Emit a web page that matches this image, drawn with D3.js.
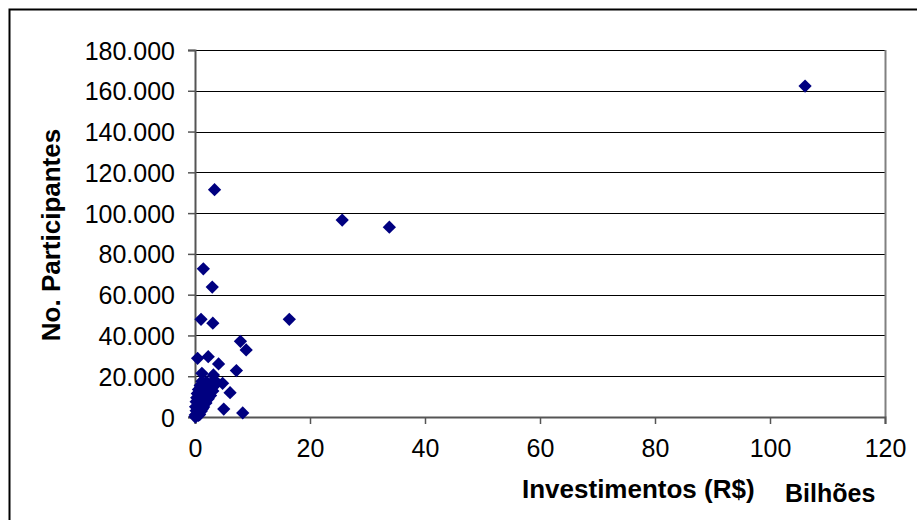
<!DOCTYPE html>
<html>
<head>
<meta charset="utf-8">
<script src="https://cdn.jsdelivr.net/npm/d3@7/dist/d3.min.js"></script>
<style>
  body { margin: 0; background: #fff; }
  svg { display: block; }
  text { font-family: Arial, "Liberation Sans", sans-serif; fill: #000; }
</style>
</head>
<body>
<div id="viz"></div>
<script>
// Investimentos (R$ bilhões) x No. Participantes
var investimentos = [
  106.1, 25.6, 33.8, 3.4, 1.45, 3.0, 16.4, 1.05, 3.1,
  7.9, 8.9, 0.45, 2.3, 4.1, 7.2, 1.2, 3.2, 4.8, 6.1, 5.0, 8.3,
  2.0, 2.8, 3.6, 1.7, 2.5, 3.4, 1.3, 2.0, 2.7, 3.1,
  1.0, 1.6, 2.2, 2.7, 0.8, 1.3, 1.8, 2.3, 0.6, 1.0, 1.5, 1.9,
  0.3, 0.8, 1.2, 1.5, 0.2, 0.5, 0.9, 1.1, 0.05, 0.3, 0.6, 0.8, 0.02, 0.2,
  0.1, 0.2, 0.3, 0.4, 0.6, 0.9, 1.2, 0.5, 1.0, 1.4, 1.8, 2.0, 2.4, 0.7, 1.3
];
var participantes = [
  162300, 96600, 93100, 111500, 72700, 63700, 47900, 47900, 46000,
  37100, 32900, 28800, 29600, 26000, 22800, 21400, 20600, 16500, 11900, 3900, 2000,
  17200, 16600, 17500, 15200, 14800, 15400, 13100, 12600, 13300, 12800,
  11200, 10800, 11400, 10500, 9100, 8700, 9300, 8900, 7100, 6800, 7300, 6900,
  5100, 4700, 5300, 4900, 3100, 2800, 3300, 2900, 1000, 1300, 800, 1200, 100, 300,
  5000, 7500, 9500, 11500, 13500, 15500, 17500, 4000, 6000, 8000, 10000, 12000, 14000, 2000, 4000
];
var xTicks = [0, 20, 40, 60, 80, 100, 120];
var yTicks = [0, 20000, 40000, 60000, 80000, 100000, 120000, 140000, 160000, 180000];

var W = 917, H = 520;
var plot = { left: 195, top: 50, right: 885, bottom: 417 };

var fmt = d3.formatLocale({ decimal: ",", thousands: ".", grouping: [3], currency: ["R$ ", ""] }).format(",d");

var svg = d3.select("#viz").append("svg")
  .attr("width", W)
  .attr("height", H);

// outer chart border
svg.append("rect")
  .attr("x", 9.5).attr("y", 9.5)
  .attr("width", W + 10).attr("height", H + 10)
  .attr("fill", "#fff")
  .attr("stroke", "#000")
  .attr("stroke-width", 2);

var x = d3.scaleLinear().domain([0, 120]).range([plot.left, plot.right]);
var y = d3.scaleLinear().domain([0, 180000]).range([plot.bottom, plot.top]);

// gridlines
svg.append("g")
  .selectAll("line")
  .data(yTicks.slice(1))
  .enter().append("line")
    .attr("x1", plot.left).attr("x2", plot.right)
    .attr("y1", function(d) { return Math.round(y(d)) + 0.5; })
    .attr("y2", function(d) { return Math.round(y(d)) + 0.5; })
    .attr("stroke", "#000")
    .attr("stroke-width", 1);

// plot border (right side)
svg.append("line")
  .attr("x1", plot.right + 0.5).attr("x2", plot.right + 0.5)
  .attr("y1", plot.top).attr("y2", plot.bottom)
  .attr("stroke", "#808080").attr("stroke-width", 2);

// y axis
var yAxis = svg.append("g")
  .attr("transform", "translate(" + plot.left + ",0)")
  .call(d3.axisLeft(y).tickValues(yTicks).tickSize(7).tickPadding(13).tickFormat(fmt));

// x axis
var xAxis = svg.append("g")
  .attr("transform", "translate(0," + plot.bottom + ")")
  .call(d3.axisBottom(x).tickValues(xTicks).tickSize(7).tickPadding(14).tickFormat(d3.format("d")));

[yAxis, xAxis].forEach(function(ax) {
  ax.select(".domain").attr("stroke", "#555").attr("stroke-width", 2);
  ax.selectAll(".tick line").attr("stroke", "#555").attr("stroke-width", 1.5);
  ax.selectAll(".tick text")
    .style("font-family", "Arial, 'Liberation Sans', sans-serif")
    .style("font-size", "25px")
    .attr("fill", "#000");
});
yAxis.selectAll(".tick text").attr("dy", "0.36em");
xAxis.selectAll(".tick text").attr("dy", "0.75em");

// points
var pts = investimentos.map(function(v, i) { return { x: v, y: participantes[i] }; });
var diamond = d3.symbol().type(d3.symbolSquare).size(88);

svg.append("g")
  .selectAll("path")
  .data(pts)
  .enter().append("path")
    .attr("d", diamond)
    .attr("transform", function(d) { return "translate(" + x(d.x) + "," + y(d.y) + ") rotate(45)"; })
    .attr("fill", "#000080");

// axis titles
svg.append("text")
  .attr("transform", "translate(60,235) rotate(-90)")
  .attr("text-anchor", "middle")
  .style("font-size", "26px")
  .style("font-weight", "bold")
  .text("No. Participantes");

svg.append("text")
  .attr("x", 522).attr("y", 498)
  .style("font-size", "26px")
  .style("font-weight", "bold")
  .text("Investimentos (R$)");

svg.append("text")
  .attr("x", 785).attr("y", 502)
  .style("font-size", "25px")
  .style("font-weight", "bold")
  .text("Bilhões");
</script>
</body>
</html>
